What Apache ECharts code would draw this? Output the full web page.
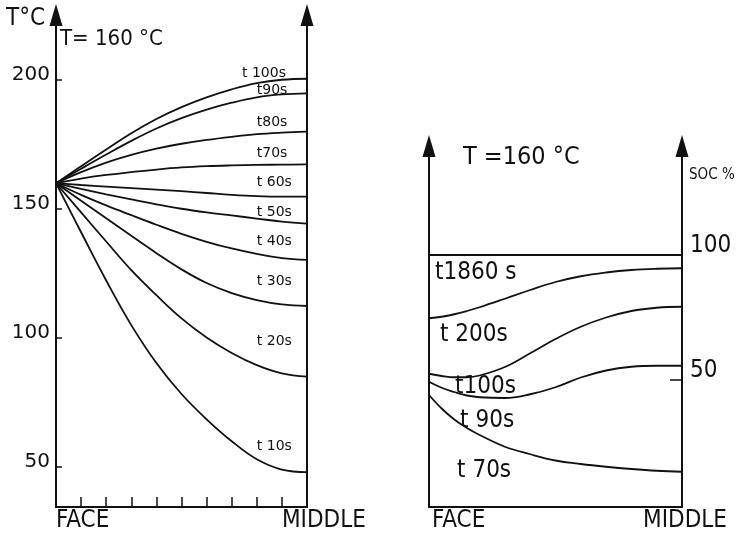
<!DOCTYPE html>
<html>
<head>
<meta charset="utf-8">
<script src="https://cdn.jsdelivr.net/npm/echarts@6/dist/echarts.min.js"></script>
<style>
html, body { margin: 0; background: #fff; }
#chart { width: 751px; height: 537px; }
</style>
</head>
<body>
<div id="chart"></div>
<script>
// depth across the sheet: 0 = face, 10 = middle
const depth = [0, 1, 2, 3, 4, 5, 6, 7, 8, 9, 10];

// left panel: temperature (°C) after t seconds
const tempNames = ["t 100s", "t90s", "t80s", "t70s", "t 60s", "t 50s", "t 40s", "t 30s", "t 20s", "t 10s"];
const temp100s = [160, 166.6, 173.1, 179.4, 184.9, 189.5, 193.3, 196.4, 198.8, 200.1, 200.5];
const temp90s = [160, 165.6, 171.1, 176.4, 181.2, 185.2, 188.5, 191.2, 193.3, 194.4, 194.8];
const temp80s = [160, 164.3, 168, 171, 173.4, 175.3, 176.8, 178, 179, 179.6, 180];
const temp70s = [160, 161.8, 163.2, 164.3, 165.3, 166.1, 166.6, 166.9, 167.1, 167.2, 167.3];
const temp60s = [160, 159.3, 158.7, 158.1, 157.5, 156.9, 156.2, 155.5, 155, 154.8, 154.8];
const temp50s = [160, 157.8, 155.7, 153.7, 151.8, 150.1, 148.7, 147.5, 146.3, 145.1, 144.3];
const temp40s = [160, 155.5, 151.4, 147.6, 143.9, 140.4, 137.3, 134.7, 132.6, 131, 130.3];
const temp30s = [160, 153.2, 146.4, 139.6, 132.9, 126.6, 121.3, 117.4, 114.7, 113, 112.4];
const temp20s = [160, 148.7, 137.4, 126.3, 116.6, 107.6, 100.2, 94.2, 89.5, 86.3, 85];
const temp10s = [160, 141, 122.3, 105, 90.3, 78.3, 68.5, 60, 53, 49, 48];
const tempTicks = [50, 100, 150, 200];

// right panel: state of cure (%) after t seconds
const socDepth = [0, 0.5, 1, 1.5, 2, 3, 4, 5, 6, 7, 8, 9, 10];
const socNames = ["t1860 s", "t 200s", "t100s", "t 90s", "t 70s"];
const soc1860s = [100, 100, 100, 100, 100, 100, 100, 100, 100, 100, 100, 100, 100];
const soc200s = [74.7, 75.3, 76.3, 77.6, 79.1, 82.5, 86, 89.2, 91.5, 93, 94, 94.5, 94.7];
const soc100s = [52.5, 51.6, 51.1, 51.1, 51.8, 55.2, 60.7, 66.4, 71.3, 75, 77.6, 78.9, 79.3];
const soc90s = [49.3, 46.9, 45.2, 43.8, 43.1, 42.8, 44.3, 47.1, 51, 53.8, 55.3, 55.7, 55.7];
const soc70s = [44, 38.6, 34.2, 30.8, 28, 23.3, 20.3, 17.8, 16.4, 15.3, 14.4, 13.7, 13.3];
const socTicks = [50, 100];

// where the curve names sit (left edge, vertical centre), in axis units
const tempNameAt = [[7.41, 202.7], [8, 196.1], [8, 183.7], [8, 171.7], [8, 160.3],
  [8, 148.8], [8, 137.6], [8, 122.1], [8, 98.8], [8, 58.1]];
const socNameAt = [[0.24, 93], [0.43, 68], [1.03, 47.2], [1.23, 33.6], [1.11, 13.6]];

const COND = "'DejaVu Sans Condensed', 'DejaVu Sans', sans-serif";
const SANS = "'DejaVu Sans', sans-serif";
const INK = "#111";

const axisLine = (arrow) => ({
  show: true,
  onZero: false,
  symbol: arrow ? ["none", "triangle"] : "none",
  symbolSize: [13, 22],
  lineStyle: { color: INK, width: 2 },
});

function curve(values, xs, gridIdx, name, at, font, size) {
  return {
    type: "line",
    name: name,
    xAxisIndex: gridIdx,
    yAxisIndex: gridIdx * 2,
    data: xs.map((x, i) => [x, values[i]]),
    smooth: 0.4,
    symbol: "none",
    lineStyle: { color: INK, width: 1.8 },
    silent: true,
    markPoint: {
      symbol: "circle",
      symbolSize: 0,
      silent: true,
      data: [{ name: name, coord: at }],
      label: {
        show: true,
        position: "right",
        distance: 0,
        formatter: "{b}",
        color: INK,
        fontFamily: font,
        fontSize: size,
      },
    },
  };
}

const tempSeries = [temp100s, temp90s, temp80s, temp70s, temp60s, temp50s, temp40s, temp30s, temp20s, temp10s];
const socSeries = [soc1860s, soc200s, soc100s, soc90s, soc70s];

const option = {
  animation: false,
  backgroundColor: "#fff",
  title: [
    { text: "T= 160 °C", left: 60, top: 28, padding: 0,
      textStyle: { fontFamily: COND, fontSize: 22, fontWeight: "normal", color: INK } },
    { text: "T =160 °C", left: 463, top: 145, padding: 0,
      textStyle: { fontFamily: COND, fontSize: 25, fontWeight: "normal", color: INK } },
  ],
  grid: [
    { left: 56, right: 444, top: 15, bottom: 30 },
    { left: 429, right: 69, top: 146, bottom: 30 },
  ],
  xAxis: [
    {
      gridIndex: 0, type: "value", min: 0, max: 10,
      axisLine: axisLine(false),
      axisTick: { show: true, inside: true, length: 10, customValues: [1, 2, 3, 4, 5, 6, 7, 8, 9],
        lineStyle: { color: INK, width: 1.5 } },
      axisLabel: { customValues: [0, 9], formatter: (v) => (v < 5 ? "FACE" : "MIDDLE"),
        align: "left", margin: 2, fontFamily: COND, fontSize: 24, color: INK },
      splitLine: { show: false },
    },
    {
      gridIndex: 1, type: "value", min: 0, max: 10,
      axisLine: axisLine(false),
      axisTick: { show: false },
      axisLabel: { customValues: [0.12, 8.46], formatter: (v) => (v < 5 ? "FACE" : "MIDDLE"),
        align: "left", margin: 2, fontFamily: COND, fontSize: 24, color: INK },
      splitLine: { show: false },
    },
  ],
  yAxis: [
    {
      gridIndex: 0, type: "value", position: "left", min: 34.5, max: 225.2,
      axisLine: axisLine(true),
      axisTick: { show: true, inside: true, length: 6, customValues: tempTicks,
        lineStyle: { color: INK, width: 1.5 } },
      axisLabel: { customValues: tempTicks, verticalAlign: "bottom", lineHeight: 10, margin: 6,
        fontFamily: SANS, fontSize: 20, color: INK },
      splitLine: { show: false },
      name: "T°C", nameLocation: "end", nameGap: 8,
      nameTextStyle: { align: "right", verticalAlign: "top", padding: [0, 11, 0, 0],
        fontFamily: COND, fontSize: 24, color: INK },
    },
    {
      gridIndex: 0, type: "value", position: "right", min: 34.5, max: 225.2,
      axisLine: axisLine(true),
      axisTick: { show: false }, axisLabel: { show: false }, splitLine: { show: false },
    },
    {
      gridIndex: 1, type: "value", position: "left", min: -0.8, max: 143.6,
      axisLine: axisLine(true),
      axisTick: { show: false }, axisLabel: { show: false }, splitLine: { show: false },
    },
    {
      gridIndex: 1, type: "value", position: "right", min: -0.8, max: 143.6,
      axisLine: axisLine(true),
      axisTick: { show: true, inside: true, length: 12, customValues: socTicks,
        lineStyle: { color: INK, width: 1.5 } },
      axisLabel: { customValues: socTicks, verticalAlign: "bottom", lineHeight: 18, margin: 8,
        fontFamily: COND, fontSize: 24, color: INK },
      splitLine: { show: false },
      name: "SOC %", nameLocation: "end", nameGap: -22,
      nameTextStyle: { align: "left", verticalAlign: "top", padding: [0, 0, 0, 7],
        fontFamily: COND, fontSize: 15, color: INK },
    },
  ],
  series: [
    ...tempSeries.map((vals, i) => curve(vals, depth, 0, tempNames[i], tempNameAt[i], SANS, 14)),
    ...socSeries.map((vals, i) => curve(vals, socDepth, 1, socNames[i], socNameAt[i], COND, 24)),
  ],
};

const chart = echarts.init(document.getElementById("chart"), null, { renderer: "canvas" });
chart.setOption(option);
</script>
</body>
</html>
